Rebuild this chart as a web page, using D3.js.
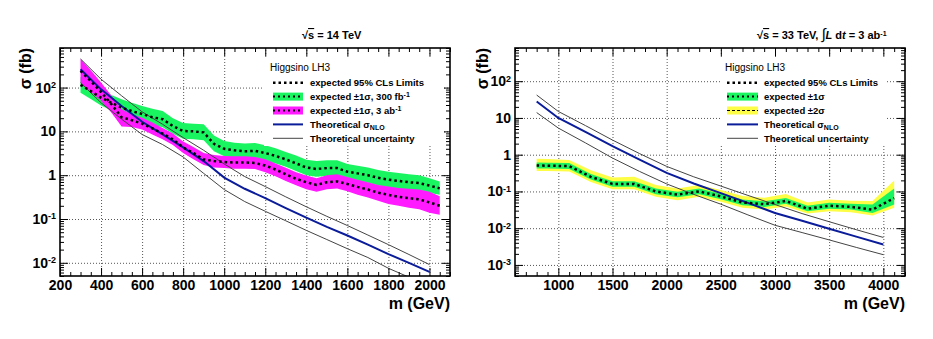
<!DOCTYPE html>
<html lang="en">
<head>
<meta charset="utf-8">
<title>Higgsino LH3 expected limits</title>
<script src="https://cdn.jsdelivr.net/npm/d3@7"></script>
<style>
  html, body { margin: 0; padding: 0; background: white; overflow: hidden; }
  svg text { font-family: "Liberation Sans", Arial, Helvetica, sans-serif; fill: black; }
  .axis text { font-size: 14px; font-weight: bold; }
  .axis line { stroke: black; stroke-width: 1; }
  .grid line { stroke: #555; stroke-width: 1; stroke-dasharray: 1,2; }
  .axis-title { font-size: 16px; font-weight: bold; }
  .panel-title { font-size: 11px; font-weight: bold; }
  .leg-head { font-size: 10px; }
  .leg { font-size: 9.5px; font-weight: bold; }
</style>
</head>
<body>
<svg id="chart" width="933" height="339"></svg>
<script>

// ---------- left panel : sqrt(s) = 14 TeV ----------
var mass14 = [300, 350, 400, 450, 500, 550, 600, 650, 700, 750, 800, 850, 900, 950,
              1000, 1050, 1100, 1150, 1200, 1250, 1300, 1350, 1400, 1450, 1500, 1550,
              1600, 1650, 1700, 1750, 1800, 1850, 1900, 1950, 2000, 2050];
// expected limit, 300 fb-1 (green band)
var exp300   = [115, 83, 59, 45, 35, 29, 25, 21, 19, 13.2, 10.2, 10, 9.5, 5.2,
                4.0, 3.7, 3.5, 3.6, 3.2, 2.75, 2.3, 1.86, 1.5, 1.38, 1.45, 1.45,
                1.2, 1.1, 1.0, 0.87, 0.79, 0.74, 0.69, 0.66, 0.58, 0.50];
var exp300Hi = [175, 125, 90, 68, 54, 45, 38, 33, 29, 20, 15.5, 15, 14.5, 8,
                6, 5.5, 5.3, 5.4, 4.8, 4.1, 3.4, 2.8, 2.25, 2.1, 2.2, 2.2,
                1.8, 1.65, 1.5, 1.32, 1.2, 1.12, 1.05, 1.0, 0.85, 0.72];
var exp300Lo = [76, 55, 39, 30, 23, 19, 16.5, 14, 12.5, 8.8, 6.8, 6.6, 6.3, 3.5,
                2.7, 2.5, 2.35, 2.4, 2.1, 1.85, 1.55, 1.25, 1.0, 0.92, 0.97, 0.97,
                0.8, 0.74, 0.67, 0.58, 0.53, 0.49, 0.46, 0.43, 0.39, 0.36];
// expected limit, 3 ab-1 (magenta band)
var exp3ab   = [240, 141, 79, 42, 21, 18, 15, 11.7, 8.9, 6.6, 4.3, 3.2, 2.3, 2.1,
                2.0, 1.95, 1.95, 1.9, 1.66, 1.35, 1.05, 0.83, 0.69, 0.60, 0.69, 0.72,
                0.63, 0.54, 0.47, 0.40, 0.355, 0.32, 0.30, 0.28, 0.24, 0.20];
var exp3abHi = [450, 250, 130, 66, 32, 25, 20.5, 16, 12, 8.9, 5.9, 4.4, 3.2, 2.9,
                2.75, 2.7, 2.7, 2.6, 2.3, 1.86, 1.48, 1.17, 0.98, 0.85, 1.0, 1.05,
                0.91, 0.79, 0.69, 0.60, 0.55, 0.51, 0.49, 0.47, 0.42, 0.33];
var exp3abLo = [130, 80, 50, 27, 13, 12.6, 11, 8.5, 6.6, 4.9, 3.2, 2.3, 1.7, 1.5,
                1.45, 1.4, 1.4, 1.38, 1.17, 0.95, 0.74, 0.59, 0.48, 0.42, 0.48, 0.50,
                0.43, 0.36, 0.31, 0.26, 0.22, 0.20, 0.18, 0.166, 0.138, 0.125];
// NLO cross section and its uncertainty
var theoMass14 = [300, 400, 500, 600, 700, 800, 900, 1000, 1100, 1200, 1300, 1400,
                  1500, 1600, 1700, 1800, 1900, 2000];
var theo14     = [263, 91, 38, 16.6, 8.5, 4.3, 2.1, 0.88, 0.49, 0.30, 0.178, 0.107,
                  0.066, 0.042, 0.026, 0.0158, 0.010, 0.0062];
var theo14Up   = [450, 155, 65, 28, 14.5, 7.2, 3.7, 1.8, 0.93, 0.55, 0.32, 0.19,
                  0.115, 0.071, 0.043, 0.026, 0.0155, 0.0091];
var theo14Down = [129, 45, 19, 8.5, 5.0, 2.6, 1.1, 0.47, 0.25, 0.15, 0.091, 0.055,
                  0.034, 0.021, 0.0132, 0.0075, 0.0047, 0.0029];
var xTicks14 = [200, 400, 600, 800, 1000, 1200, 1400, 1600, 1800, 2000];

// ---------- right panel : sqrt(s) = 33 TeV, 3 ab-1 ----------
var mass33 = [800, 900, 1100, 1300, 1500, 1700, 1900, 2100, 2300, 2500, 2700, 2900,
              3100, 3300, 3500, 3700, 3900, 4100];
var exp33    = [0.51, 0.50, 0.49, 0.25, 0.16, 0.16, 0.10, 0.082, 0.10, 0.073, 0.050, 0.045,
                0.055, 0.034, 0.041, 0.038, 0.032, 0.066];
var exp33Hi1 = [0.61, 0.60, 0.59, 0.30, 0.19, 0.19, 0.12, 0.098, 0.12, 0.087, 0.060, 0.054,
                0.066, 0.041, 0.049, 0.046, 0.044, 0.12];
var exp33Lo1 = [0.42, 0.42, 0.41, 0.21, 0.134, 0.134, 0.084, 0.069, 0.084, 0.061, 0.042, 0.038,
                0.046, 0.029, 0.034, 0.032, 0.026, 0.044];
var exp33Hi2 = [0.78, 0.76, 0.72, 0.38, 0.24, 0.25, 0.15, 0.12, 0.15, 0.11, 0.075, 0.067,
                0.085, 0.05, 0.06, 0.056, 0.055, 0.2];
var exp33Lo2 = [0.36, 0.36, 0.35, 0.18, 0.115, 0.115, 0.072, 0.058, 0.072, 0.052, 0.036, 0.032,
                0.039, 0.025, 0.029, 0.027, 0.022, 0.036];
var theoMass33 = [800, 1000, 1250, 1500, 1750, 2000, 2250, 2500, 2750, 3000, 3250, 3500, 3750, 4000];
var theo33     = [28, 10, 4.2, 1.7, 0.73, 0.32, 0.165, 0.09, 0.049, 0.026, 0.016, 0.0097, 0.0059, 0.0036];
var theo33Up   = [42, 15, 6.2, 2.5, 1.07, 0.48, 0.25, 0.14, 0.078, 0.044, 0.025, 0.015, 0.0091, 0.0056];
var theo33Down = [14, 5.3, 2.1, 0.81, 0.35, 0.16, 0.083, 0.045, 0.023, 0.012, 0.0076, 0.0048, 0.003, 0.0019];
var xTicks33 = [1000, 1500, 2000, 2500, 3000, 3500, 4000];

// colours
var cGreen = "#19f560", cMagenta = "#ff1aff", cYellow = "#fdfd45",
    cBlue = "#0a1c99", cGrey = "#444";

var svg = d3.select("#chart");

function zipLine(ms, vs) { return ms.map(function(m, i) { return {m: m, v: vs[i]}; }); }
function zipBand(ms, lo, hi) { return ms.map(function(m, i) { return {m: m, lo: lo[i], hi: hi[i]}; }); }

// writes label parts, [text, "sup"|"sub"|undefined]
function writeParts(t, parts, small) {
  parts.forEach(function(p) {
    var s = t.append("tspan").text(p[0]);
    if (p[1] === "sup") s.attr("dy", "-0.5em").attr("font-size", small);
    if (p[1] === "sub") s.attr("dy", "0.35em").attr("font-size", small);
    if (p[1] === "back") s.attr("dy", "0.5em");
  });
}

function drawPanel(p) {
  var x = d3.scaleLinear().domain(p.xDomain).range([p.left, p.right]);
  var y = d3.scaleLog().domain(p.yDomain).range([p.bottom, p.top]);
  var w = p.right - p.left, h = p.bottom - p.top;

  // decades and 2..9 minor ticks
  var yMajor = [], yMinor = [];
  for (var k = -4; k <= 3; k++) {
    var base = Math.pow(10, k);
    if (base >= p.yDomain[0] && base <= p.yDomain[1]) yMajor.push(base);
    for (var j = 2; j < 10; j++) {
      var v = +(j * base).toPrecision(3);
      if (v >= p.yDomain[0] && v <= p.yDomain[1]) yMinor.push(v);
    }
  }
  var xMinor = d3.range(p.xDomain[0], p.xDomain[1] + 1, p.xMinorStep)
                 .filter(function(v) { return p.xTicks.indexOf(v) < 0; });

  // dotted grid
  svg.append("g").attr("class", "grid").attr("transform", "translate(0," + p.bottom + ")")
     .call(d3.axisBottom(x).tickValues(p.xTicks.filter(function(v) { return v > p.xDomain[0]; }))
            .tickSize(-h).tickFormat("").tickSizeOuter(0))
     .call(function(g) { g.select(".domain").remove(); });
  svg.append("g").attr("class", "grid").attr("transform", "translate(" + p.left + ",0)")
     .call(d3.axisLeft(y).tickValues(yMajor).tickSize(-w).tickFormat("").tickSizeOuter(0))
     .call(function(g) { g.select(".domain").remove(); });

  // data
  svg.append("clipPath").attr("id", "clip" + p.name).append("rect")
     .attr("x", p.left).attr("y", p.top).attr("width", w).attr("height", h);
  var plot = svg.append("g").attr("clip-path", "url(#clip" + p.name + ")");

  var area = d3.area().x(function(d) { return x(d.m); })
                      .y0(function(d) { return y(d.lo); })
                      .y1(function(d) { return y(d.hi); });
  var line = d3.line().x(function(d) { return x(d.m); })
                      .y(function(d) { return y(d.v); });

  p.bands.forEach(function(b) {
    plot.append("path").datum(b.data).attr("d", area).attr("fill", b.color).attr("stroke", "none");
  });
  p.lines.forEach(function(l) {
    plot.append("path").datum(l.data).attr("d", line).attr("fill", "none")
        .attr("stroke", l.color).attr("stroke-width", l.width)
        .attr("stroke-dasharray", l.dash || null);
  });

  // axes, ticks inside the frame
  function axisGroup(tr) {
    return svg.append("g").attr("class", "axis").attr("transform", tr);
  }
  function noDomain(g) { g.select(".domain").remove(); }

  axisGroup("translate(0," + p.bottom + ")")
    .call(d3.axisBottom(x).tickValues(p.xTicks).tickSize(-8).tickPadding(4).tickSizeOuter(0)
           .tickFormat(d3.format("d")))
    .call(noDomain);
  axisGroup("translate(0," + p.bottom + ")")
    .call(d3.axisBottom(x).tickValues(xMinor).tickSize(-4).tickFormat("").tickSizeOuter(0))
    .call(noDomain);
  axisGroup("translate(0," + p.top + ")")
    .call(d3.axisTop(x).tickValues(p.xTicks).tickSize(-8).tickFormat("").tickSizeOuter(0))
    .call(noDomain);
  axisGroup("translate(0," + p.top + ")")
    .call(d3.axisTop(x).tickValues(xMinor).tickSize(-4).tickFormat("").tickSizeOuter(0))
    .call(noDomain);

  axisGroup("translate(" + p.left + ",0)")
    .call(d3.axisLeft(y).tickValues(yMajor).tickSize(-8).tickPadding(4).tickSizeOuter(0))
    .call(noDomain)
    .call(function(g) {
      g.selectAll(".tick text").each(function(d) {
        var e = Math.round(Math.log10(d));
        var t = d3.select(this).text("");
        if (e === 0) t.text("1");
        else if (e === 1) t.text("10");
        else writeParts(t, [["10"], [String(e), "sup"]], "9px");
      });
    });
  axisGroup("translate(" + p.left + ",0)")
    .call(d3.axisLeft(y).tickValues(yMinor).tickSize(-4).tickFormat("").tickSizeOuter(0))
    .call(noDomain);
  axisGroup("translate(" + p.right + ",0)")
    .call(d3.axisRight(y).tickValues(yMajor).tickSize(-8).tickFormat("").tickSizeOuter(0))
    .call(noDomain);
  axisGroup("translate(" + p.right + ",0)")
    .call(d3.axisRight(y).tickValues(yMinor).tickSize(-4).tickFormat("").tickSizeOuter(0))
    .call(noDomain);

  // frame
  svg.append("rect").attr("x", p.left).attr("y", p.top).attr("width", w).attr("height", h)
     .attr("fill", "none").attr("stroke", "black").attr("stroke-width", 1.6);

  // axis titles
  svg.append("text").attr("class", "axis-title").attr("text-anchor", "end")
     .attr("transform", "translate(" + p.yTitleX + "," + p.top + ") rotate(-90)")
     .text("\u03c3 (fb)");
  svg.append("text").attr("class", "axis-title").attr("text-anchor", "end")
     .attr("x", p.right).attr("y", 309).text("m (GeV)");

  // title above frame
  var tt = svg.append("text").attr("class", "panel-title").attr("x", p.titleX).attr("y", 39);
  tt.append("tspan").text("\u221a");
  tt.append("tspan").style("text-decoration", "overline").text("s");
  writeParts(tt, p.titleParts, "7px");

  // legend
  var L = p.legend;
  svg.append("rect").attr("x", L.boxX).attr("y", 58).attr("width", L.boxW).attr("height", 88)
     .attr("fill", "white");
  svg.append("text").attr("class", "leg-head").attr("x", L.headX).attr("y", 71).text("Higgsino LH3");
  L.items.forEach(function(it, i) {
    var cy = 82.7 + i * 13.9;
    if (it.fill) {
      svg.append("rect").attr("x", L.symX).attr("y", cy - 4).attr("width", L.symW).attr("height", 8)
         .attr("fill", it.fill);
    }
    svg.append("line").attr("x1", L.symX).attr("x2", L.symX + L.symW).attr("y1", cy).attr("y2", cy)
       .attr("stroke", it.stroke).attr("stroke-width", it.width)
       .attr("stroke-dasharray", it.dash || null);
    var t = svg.append("text").attr("class", "leg").attr("x", L.textX).attr("y", cy + 3.5);
    writeParts(t, it.parts, "7px");
  });
}

var dots = "2.5,3";

drawPanel({
  name: "14", left: 60, right: 450, top: 48, bottom: 276,
  xDomain: [200, 2100], yDomain: [0.005, 800], xTicks: xTicks14, xMinorStep: 50,
  yTitleX: 31, titleX: 302,
  titleParts: [[" = 14 TeV"]],
  bands: [
    {data: zipBand(mass14, exp300Lo, exp300Hi), color: cGreen},
    {data: zipBand(mass14, exp3abLo, exp3abHi), color: cMagenta}
  ],
  lines: [
    {data: zipLine(theoMass14, theo14Up), color: cGrey, width: 1},
    {data: zipLine(theoMass14, theo14Down), color: cGrey, width: 1},
    {data: zipLine(theoMass14, theo14), color: cBlue, width: 2},
    {data: zipLine(mass14, exp300), color: "black", width: 2.5, dash: dots},
    {data: zipLine(mass14, exp3ab), color: "black", width: 2.5, dash: dots}
  ],
  legend: {
    boxX: 264, boxW: 180, headX: 270, symX: 273, symW: 30, textX: 310,
    items: [
      {stroke: "black", width: 2.5, dash: dots, parts: [["expected 95% CLs Limits"]]},
      {fill: cGreen, stroke: "black", width: 2, dash: "2,3", parts: [["expected \u00b11\u03c3, 300 fb"], ["-1", "sup"]]},
      {fill: cMagenta, stroke: "black", width: 2, dash: "2,3", parts: [["expected \u00b11\u03c3, 3 ab"], ["-1", "sup"]]},
      {stroke: cBlue, width: 2, parts: [["Theoretical \u03c3"], ["NLO", "sub"]]},
      {stroke: cGrey, width: 1, parts: [["Theoretical uncertainty"]]}
    ]
  }
});

drawPanel({
  name: "33", left: 515, right: 905, top: 48, bottom: 276,
  xDomain: [600, 4200], yDomain: [0.0005, 800], xTicks: xTicks33, xMinorStep: 100,
  yTitleX: 488, titleX: 757,
  titleParts: [[" = 33 TeV, "], ["\u222b"], ["L", "it"], [" d"], ["t"], [" = 3 ab"], ["-1", "sup"]],
  bands: [
    {data: zipBand(mass33, exp33Lo2, exp33Hi2), color: cYellow},
    {data: zipBand(mass33, exp33Lo1, exp33Hi1), color: cGreen}
  ],
  lines: [
    {data: zipLine(theoMass33, theo33Up), color: cGrey, width: 1},
    {data: zipLine(theoMass33, theo33Down), color: cGrey, width: 1},
    {data: zipLine(theoMass33, theo33), color: cBlue, width: 2},
    {data: zipLine(mass33, exp33), color: "black", width: 2.5, dash: dots}
  ],
  legend: {
    boxX: 720, boxW: 165, headX: 725, symX: 727, symW: 31, textX: 764,
    items: [
      {stroke: "black", width: 2.5, dash: dots, parts: [["expected 95% CLs Limits"]]},
      {fill: cGreen, stroke: "black", width: 2, dash: "2,3", parts: [["expected \u00b11\u03c3"]]},
      {fill: cYellow, stroke: "black", width: 1, dash: "3,2", parts: [["expected \u00b12\u03c3"]]},
      {stroke: cBlue, width: 2, parts: [["Theoretical \u03c3"], ["NLO", "sub"]]},
      {stroke: cGrey, width: 1, parts: [["Theoretical uncertainty"]]}
    ]
  }
});

// italic L and t in the 33 TeV title
svg.selectAll(".panel-title tspan").filter(function() {
  var s = d3.select(this).text(); return s === "L" || s === "t";
}).style("font-style", "italic");
svg.selectAll(".panel-title tspan").filter(function() {
  return d3.select(this).text() === "\u222b";
}).attr("font-size", "15px").attr("font-weight", "normal");

</script>
</body>
</html>
